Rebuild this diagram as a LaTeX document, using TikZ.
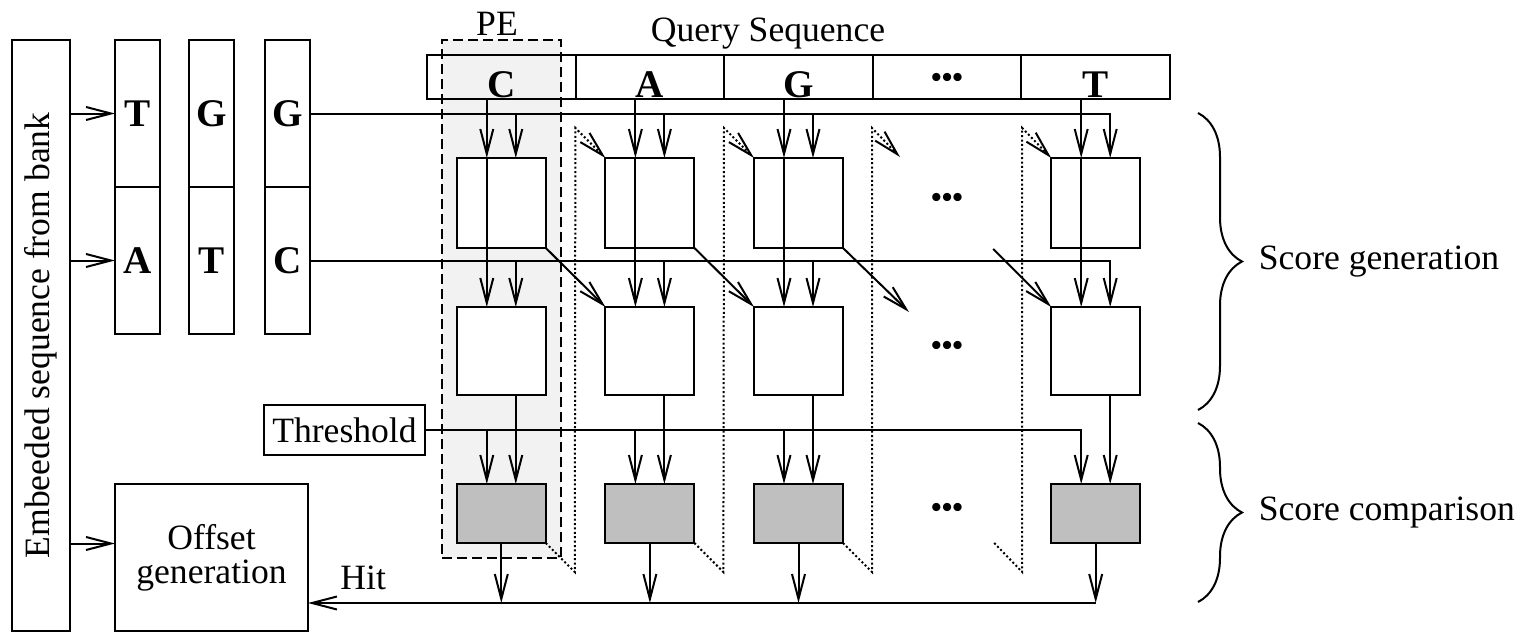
\documentclass[tikz,border=0pt]{standalone}
\usepackage{fontspec}
\setmainfont{Liberation Serif}[Scale=1.78]
\usetikzlibrary{arrows.meta,positioning,calc,decorations.pathreplacing}
\tikzset{
  cell/.style={draw, inner sep=0pt, outer sep=0pt, font=\fontsize{11}{13}\selectfont\bfseries},
  wcell/.style={cell, minimum width=22.5pt, minimum height=73.5pt},
  qbox/.style={cell, minimum width=74.3pt, minimum height=22pt},
  qcell/.style={qbox, label={[font=\fontsize{11}{13}\selectfont\bfseries, anchor=base, inner sep=0pt, yshift=1pt]south:#1}},
  textbox/.style={draw, inner sep=0pt, outer sep=0pt},
  bankbox/.style={textbox, minimum width=29pt, minimum height=295.5pt,
    label={[rotate=90]center:Embeeded sequence from bank}},
  peregion/.style={draw, fill=black!5, dash pattern=on 5pt off 2.5pt,
    minimum width=59.5pt, minimum height=259pt, inner sep=0pt},
}
\tikzset{
  unitbox/.style={draw, fill=white, inner sep=0pt, outer sep=0pt, minimum width=44.5pt},
  topunit/.style={unitbox, minimum height=45pt},
  midunit/.style={unitbox, minimum height=44pt},
  cmpunit/.style={unitbox, fill=black!25, minimum height=29.5pt},
  ellip/.style={font=\fontsize{8.5}{10}\selectfont\bfseries, inner sep=0pt},
  feedback/.style={->, dash pattern=on 1pt off 1.2pt},
}
\def\off{7.25pt}
\def\rowsep{29.5pt}

\begin{document}
\begin{tikzpicture}[x=0.5pt, y=-0.5pt, line width=1pt,
    >={Straight Barb[length=12.5pt,width=6.5pt]}]
    \useasboundingbox (0,0) rectangle (1523,632);

    %% PE region
    \node[peregion] (pe) at (501.5,299) {};
    \node[anchor=base] (pelabel) at (497,35) {PE};

    %% Bank side
    \node[bankbox] (bank) at (41,335.5) {};
    \node[wcell] (w1t) at (137.5,113.5) {T};
    \node[wcell, below=0pt of w1t] (w1b) {A};
    \node[wcell, right=14.5pt of w1t] (w2t) {G};
    \node[wcell, below=0pt of w2t] (w2b) {T};
    \node[wcell, right=15.5pt of w2t] (w3t) {G};
    \node[wcell, below=0pt of w3t] (w3b) {C};
    \node[textbox, minimum width=96.5pt, minimum height=73.5pt, align=center,
      font={\fontsize{10}{17}\selectfont}] (offset) at (211.5,557.5) {Offset\\generation};
    \node[textbox, minimum width=80.5pt, minimum height=25pt] (thr) at (344.5,430) {Threshold};

    %% Query sequence
    \node[anchor=base] (qlabel) at (768,41) {Query Sequence};
    \node[qcell=C] (q1) at (501.3,77) {};
    \node[qcell=A, right=0pt of q1] (q2) {};
    \node[qcell=G, right=0pt of q2] (q3) {};
    \node[qbox, right=0pt of q3, label={[ellip, yshift=-1.5pt]center:•••}] (q4) {};
    \node[qcell=T, right=0pt of q4] (q5) {};

    %% Processing elements
    \node[topunit, below=\rowsep of q1] (top1) {};
    \node[midunit, below=\rowsep of top1] (mid1) {};
    \node[cmpunit, below=44.5pt of mid1] (cmp1) {};
    \node[topunit, below=\rowsep of q2] (top2) {};
    \node[midunit, below=\rowsep of top2] (mid2) {};
    \node[cmpunit, below=44.5pt of mid2] (cmp2) {};
    \node[topunit, below=\rowsep of q3] (top3) {};
    \node[midunit, below=\rowsep of top3] (mid3) {};
    \node[cmpunit, below=44.5pt of mid3] (cmp3) {};
    \node[topunit, below=\rowsep of q5] (top5) {};
    \node[midunit, below=\rowsep of top5] (mid5) {};
    \node[cmpunit, below=44.5pt of mid5] (cmp5) {};
    \node[ellip, yshift=1.5pt] (dots1) at (q4 |- top1) {•••};
    \node[ellip, yshift=1.5pt] (dots2) at (q4 |- mid1) {•••};
    \node[ellip, yshift=1.5pt] (dots3) at (q4 |- cmp1) {•••};

    %% Bank inputs
    \draw[->] (bank.east |- w1t) -- (w1t.west);
    \draw[->] (bank.east |- w1b) -- (w1b.west);
    \draw[<-] ([yshift=7pt]offset.west) -- ++(-22.5pt,0);

    %% Query inputs
    \draw[->] ([xshift=-\off]q1.south) -- ([xshift=-\off]top1.north);
    \draw[->] ([xshift=-\off]top1.north) -- ([xshift=-\off]mid1.north);
    \draw[->] ([xshift=-\off]q2.south) -- ([xshift=-\off]top2.north);
    \draw[->] ([xshift=-\off]top2.north) -- ([xshift=-\off]mid2.north);
    \draw[->] ([xshift=-\off]q3.south) -- ([xshift=-\off]top3.north);
    \draw[->] ([xshift=-\off]top3.north) -- ([xshift=-\off]mid3.north);
    \draw[->] ([xshift=-\off]q5.south) -- ([xshift=-\off]top5.north);
    \draw[->] ([xshift=-\off]top5.north) -- ([xshift=-\off]mid5.north);

    %% Subject letters
    \draw[->] (w3t.east) -| ([xshift=\off]top5.north);
    \draw[->] ($(w3t.east -| top1.north)+(\off,0)$) -- ([xshift=\off]top1.north);
    \draw[->] ($(w3t.east -| top2.north)+(\off,0)$) -- ([xshift=\off]top2.north);
    \draw[->] ($(w3t.east -| top3.north)+(\off,0)$) -- ([xshift=\off]top3.north);
    \draw[->] (w3b.east) -| ([xshift=\off]mid5.north);
    \draw[->] ($(w3b.east -| mid1.north)+(\off,0)$) -- ([xshift=\off]mid1.north);
    \draw[->] ($(w3b.east -| mid2.north)+(\off,0)$) -- ([xshift=\off]mid2.north);
    \draw[->] ($(w3b.east -| mid3.north)+(\off,0)$) -- ([xshift=\off]mid3.north);

    %% Diagonal scores
    \draw[->] (top1.south east) -- (mid2.north west);
    \draw[->] (top2.south east) -- (mid3.north west);
    \draw[->] (top3.south east) -- ++(33pt,-32pt);
    \draw[->] ($(mid5.north west)+(-29pt,29pt)$) -- (mid5.north west);

    %% Feedback
    \draw[feedback] (cmp1.south east) -- ++(14.5pt,-14.5pt) -- ($(top2.north west)+(-15pt,15pt)$) -- (top2.north west);
    \draw[feedback] (cmp2.south east) -- ++(14.5pt,-14.5pt) -- ($(top3.north west)+(-15pt,15pt)$) -- (top3.north west);
    \draw[feedback] (cmp3.south east) -- ++(14.5pt,-14.5pt) -- ++(0,222pt) -- ++(14pt,-14.5pt);
    \draw[feedback] ($(cmp5.south west)+(-28.5pt,0)$) -- ++(14pt,-14.5pt) -- ($(top5.north west)+(-14.5pt,15pt)$) -- (top5.north west);

    %% Threshold
    \draw[->] (thr.east) -| ([xshift=-\off]cmp5.north);
    \draw[->] ($(thr.east -| cmp1.north)+(-\off,0)$) -- ([xshift=-\off]cmp1.north);
    \draw[->] ($(thr.east -| cmp2.north)+(-\off,0)$) -- ([xshift=-\off]cmp2.north);
    \draw[->] ($(thr.east -| cmp3.north)+(-\off,0)$) -- ([xshift=-\off]cmp3.north);
    \draw[->] ([xshift=\off]mid1.south) -- ([xshift=\off]cmp1.north);
    \draw[->] ([xshift=\off]mid2.south) -- ([xshift=\off]cmp2.north);
    \draw[->] ([xshift=\off]mid3.south) -- ([xshift=\off]cmp3.north);
    \draw[->] ([xshift=\off]mid5.south) -- ([xshift=\off]cmp5.north);

    %% Hits
    \draw[->] (cmp5.south) -- ++(0,-30pt) coordinate (hit);
    \draw[->] (cmp1.south) -- (cmp1.south |- hit);
    \draw[->] (cmp2.south) -- (cmp2.south |- hit);
    \draw[->] (cmp3.south) -- (cmp3.south |- hit);
    \draw[->] (hit) -- (hit -| offset.east) node[pos=0.93, above] (hitlabel) {Hit};

    %% Braces
    \draw[decorate, decoration={brace, amplitude=22pt}] (1198,113) -- (1198,410)
      node[midway, right=24pt] (sgen) {Score generation};
    \draw[decorate, decoration={brace, amplitude=22pt}] (1198,423) -- (1198,602)
      node[midway, right=24pt] (scmp) {Score comparison};
  \end{tikzpicture}
\end{document}
